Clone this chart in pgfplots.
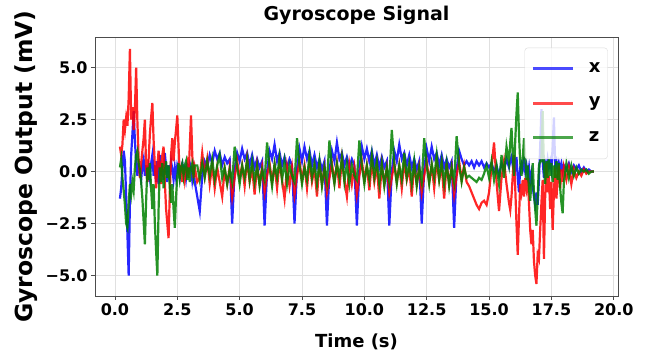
\documentclass[border=0pt]{standalone}
\usepackage{fontspec}
\setmainfont{DejaVu Sans}
\usepackage{pgfplots}
\usepackage{pgfplotstable}
\pgfplotsset{compat=1.18}
\definecolor{mplb}{rgb}{0,0,1}
\definecolor{mplr}{rgb}{1,0,0}
\definecolor{mplg}{rgb}{0,0.5,0}
\pgfplotstableread{
t gx gy gz
0.20 -1.3 1.2 0.2
0.25 -0.8 0.8 0.6
0.30 0.2 1.3 -0.3
0.35 1.0 2.5 -0.9
0.40 0.5 2.0 -1.6
0.45 -1.2 2.6 -2.5
0.50 -3.0 2.2 -2.7
0.55 -5.0 3.5 -1.5
0.60 -1.5 5.9 -0.6
0.65 0.8 2.5 -1.1
0.70 1.8 3.1 -0.5
0.75 2.9 2.0 -0.9
0.80 1.5 3.0 0.2
0.85 0.4 5.0 0.8
0.90 -0.2 2.4 1.0
0.95 0.4 0.6 0.4
1.00 0.0 -0.3 0.1
1.05 -0.4 0.4 -0.5
1.10 0.3 1.0 -1.3
1.15 0.6 1.6 -2.4
1.20 -0.2 2.5 -3.5
1.25 0.3 0.2 -1.4
1.30 -0.5 -0.5 0.2
1.35 0.2 0.6 -0.4
1.40 -0.3 1.8 0.4
1.45 0.4 2.6 -0.8
1.50 0.8 3.3 -1.8
1.55 -0.2 1.5 -0.6
1.60 0.3 0.3 -2.5
1.65 -0.5 -0.8 -3.8
1.70 0.5 0.3 -5.0
1.75 -0.6 1.0 -1.8
1.80 0.8 0.2 0.2
1.85 -0.2 -0.6 -0.5
1.90 0.4 0.8 0.4
1.95 -0.4 1.2 -0.8
2.00 0.9 -0.5 0.0
2.05 0.2 -1.8 0.5
2.10 -0.5 -2.5 -0.3
2.15 0.3 -3.2 0.3
2.20 -0.2 -1.0 -0.8
2.25 0.5 0.8 -1.5
2.30 0.1 1.6 -0.6
2.35 -0.4 0.5 -1.8
2.40 0.2 1.4 -2.7
2.45 -0.3 2.0 -1.2
2.50 0.3 2.7 -0.2
2.55 0.1 1.2 0.4
2.60 -0.3 -0.2 -0.3
2.65 0.2 0.3 0.2
2.70 0.4 -0.5 0.4
2.75 0.0 0.2 -0.2
2.80 0.2 -0.4 0.3
2.85 -0.3 0.1 0.5
2.90 0.3 0.4 -0.4
2.95 0.1 -0.3 0.2
3.00 0.4 1.2 -0.5
3.05 0.2 2.7 0.2
3.10 -0.4 0.8 0.4
3.15 0.1 -0.3 -0.2
3.20 -0.5 0.2 0.3
3.30 -1.2 -0.5 0.3
3.40 -1.9 -0.3 -0.4
3.50 -0.2 0.9 0.4
3.60 0.5 -0.2 -0.3
3.70 0.2 0.6 0.5
3.80 0.8 -0.6 -0.2
3.90 0.4 0.3 0.6
4.00 1.0 -0.8 -0.4
4.10 0.6 0.2 0.3
4.20 0.9 -0.5 0.8
4.30 0.3 -1.2 -0.3
4.40 0.7 0.1 0.2
4.50 0.4 -0.6 -0.6
4.60 0.6 0.2 0.1
4.70 -2.5 -1.2 -0.5
4.80 0.1 -0.3 1.2
4.90 0.9 0.5 0.2
5.00 0.5 -0.3 -0.6
5.10 1.1 0.3 0.3
5.20 0.6 -0.7 -0.3
5.30 0.9 0.6 0.6
5.40 0.3 -0.5 -0.4
5.50 0.8 0.2 0.5
5.60 0.2 -1.1 -0.5
5.70 0.6 0.3 0.3
5.80 0.2 -0.6 -0.7
5.90 0.5 0.2 0.1
6.00 -2.6 -1.0 -0.4
6.10 0.0 -0.2 1.4
6.20 1.0 0.4 0.2
6.30 0.6 -0.5 -0.7
6.40 1.3 0.3 0.4
6.50 0.5 -0.8 -0.3
6.60 0.9 0.5 0.7
6.70 0.3 -0.4 -0.4
6.80 0.7 -1.3 0.5
6.90 0.2 0.2 -0.6
7.00 0.6 -0.7 0.3
7.10 0.3 0.2 -0.2
7.20 -2.5 -1.1 -0.5
7.30 0.1 -0.2 1.6
7.40 1.1 0.5 0.3
7.50 0.5 -0.4 -0.6
7.60 1.2 0.3 0.2
7.70 0.6 -0.8 -0.4
7.80 1.0 0.5 0.8
7.90 0.3 -0.5 -0.3
8.00 0.8 0.2 0.4
8.10 0.2 -1.2 -0.6
8.20 0.6 0.4 0.5
8.30 0.1 -0.6 -0.7
8.40 0.5 0.2 0.2
8.50 -2.6 -1.0 -0.5
8.60 0.0 -0.3 1.5
8.70 1.0 0.4 0.2
8.80 0.5 -0.5 -0.6
8.90 1.4 0.4 0.4
9.00 0.6 -0.8 -0.3
9.10 0.9 0.6 0.7
9.20 0.3 -0.4 -0.5
9.30 0.7 -1.2 0.4
9.40 0.2 0.3 -0.6
9.50 0.6 -0.6 0.3
9.60 0.3 0.2 -0.2
9.70 -2.6 -1.1 -0.4
9.80 0.1 -0.2 1.5
9.90 1.2 0.5 0.3
10.00 0.6 -0.4 -0.6
10.10 1.1 0.3 0.3
10.20 0.5 -0.9 -0.4
10.30 1.0 0.5 0.8
10.40 0.3 -0.5 -0.3
10.50 0.8 0.3 0.5
10.60 0.2 -1.3 -0.6
10.70 0.7 0.3 0.4
10.80 0.2 -0.6 -0.7
10.90 0.5 0.2 0.2
11.00 -2.6 -1.0 -0.5
11.10 0.0 -0.3 2.0
11.20 1.0 0.4 0.4
11.30 0.5 -0.5 -0.6
11.40 1.3 0.3 0.3
11.50 0.6 -0.8 -0.4
11.60 0.9 0.5 0.9
11.70 0.3 -0.4 -0.3
11.80 0.8 0.2 0.4
11.90 0.2 -1.2 -0.6
12.00 0.6 0.4 0.5
12.10 0.1 -0.6 -0.7
12.20 0.5 0.2 0.2
12.30 -2.5 -1.0 -0.5
12.40 0.1 -0.2 1.6
12.50 1.1 0.5 0.3
12.60 0.5 -0.5 -0.6
12.70 1.2 0.3 0.4
12.80 0.6 -0.8 -0.3
12.90 0.9 0.5 0.8
13.00 0.3 -0.4 -0.4
13.10 0.8 0.3 0.5
13.20 0.2 -1.3 -0.6
13.30 0.6 0.4 0.4
13.40 0.2 -0.6 -0.7
13.50 0.5 0.2 0.2
13.60 -2.7 -1.1 -0.5
13.70 0.1 -0.2 1.7
13.80 1.0 0.5 0.3
13.90 0.6 -0.4 -0.5
14.00 0.3 0.3 0.2
14.10 0.5 -0.5 -0.3
14.20 0.3 -0.7 -0.2
14.30 0.5 -1.0 -0.3
14.40 0.2 -1.3 -0.4
14.50 0.5 -1.6 -0.5
14.60 0.3 -1.8 -0.3
14.70 0.5 -1.5 -0.4
14.80 0.2 -1.4 -0.1
14.90 0.4 -1.6 0.3
15.00 0.2 -1.0 -0.3
15.10 0.4 0.2 0.5
15.20 0.0 1.4 -0.4
15.30 0.3 -0.5 0.3
15.40 -0.2 -1.9 -0.6
15.50 0.4 -0.3 0.8
15.60 0.1 0.5 -0.3
15.70 0.6 -0.6 1.2
15.80 0.2 -1.5 0.4
15.85 0.5 -1.85 1.4
15.90 0.7 -1.2 2.1
15.95 0.3 -0.2 0.8
16.00 0.5 0.8 -0.2
16.05 0.2 -0.8 1.5
16.10 0.7 -2.5 2.8
16.15 -0.3 -4.0 3.8
16.20 -1.0 -2.2 1.8
16.25 0.2 -0.6 0.4
16.30 0.4 -1.0 -0.2
16.35 0.1 -0.4 0.6
16.40 0.5 -1.2 1.6
16.45 0.0 -0.3 0.7
16.50 0.3 -0.8 -0.4
16.55 -0.2 -0.3 0.3
16.60 0.2 -1.5 -0.8
16.65 -0.5 -2.8 -1.4
16.70 -0.1 -3.5 -0.5
16.75 -0.7 -2.8 0.4
16.80 -1.2 -4.3 -1.0
16.85 -1.6 -5.0 -1.8
16.90 -1.0 -5.4 -2.6
16.95 -1.6 -4.0 -1.2
17.00 -0.4 -4.2 0.3
17.05 1.2 -2.8 0.5
17.10 3.0 -1.5 0.5
17.15 0.5 -0.4 2.9
17.20 -0.3 -4.2 0.2
17.25 0.4 -1.2 -0.6
17.30 0.1 0.4 0.5
17.35 0.6 -1.0 -0.3
17.40 0.2 -0.2 0.6
17.45 0.5 -1.8 -0.2
17.50 0.1 -0.5 0.4
17.55 1.2 -2.8 -0.5
17.60 2.6 -1.0 0.3
17.65 0.3 0.2 -0.3
17.70 0.5 -1.3 0.5
17.75 0.0 -0.4 -0.4
17.80 0.4 0.3 0.4
17.85 0.1 -0.8 -0.8
17.90 0.4 0.1 -1.5
17.95 0.0 -0.5 -2.0
18.00 0.3 0.2 -0.5
18.10 0.1 -0.4 0.4
18.20 0.4 0.2 -0.3
18.30 0.0 -0.6 0.3
18.40 0.3 0.1 -0.2
18.50 0.1 -0.3 0.2
18.60 0.3 0.0 -0.1
18.70 0.0 -0.2 0.1
18.80 0.2 0.1 0.0
18.90 0.0 -0.1 0.1
19.00 0.1 0.0 -0.1
19.10 0.0 0.0 0.0
19.20 0.0 0.0 0.0
}\gyro
\begin{document}
\begin{tikzpicture}
\useasboundingbox (-95pt,-60pt) rectangle (556pt,296pt);
\begin{axis}[
  at={(0,0)}, anchor=south west,
  width=523pt, height=259pt, scale only axis,
  xmin=-0.8, xmax=20.17, ymin=-5.98, ymax=6.47,
  xtick={0,2.5,5,7.5,10,12.5,15,17.5,20},
  xticklabels={0.0,2.5,5.0,7.5,10.0,12.5,15.0,17.5,20.0},
  ytick={-5,-2.5,0,2.5,5},
  yticklabels={−5.0,−2.5,0.0,2.5,5.0},
  ticklabel style={font=\fontsize{16}{18}\selectfont\bfseries},
  tick align=outside, tick pos=left, major tick length=4pt,
  tick style={black!70, line width=0.8pt},
  axis line style={black!70, line width=0.8pt},
  grid=major, grid style={black!12, line width=0.8pt},
  title={Gyroscope Signal},
  title style={font=\fontsize{19}{22}\selectfont\bfseries, at={(axis description cs:0.5,1)}, anchor=base, yshift=10pt},
  xlabel={Time (s)},
  xlabel style={font=\fontsize{18}{21}\selectfont\bfseries, at={(axis description cs:0.5,-0.1757)}, anchor=center},
  ylabel={Gyroscope Output (mV)},
  ylabel style={font=\fontsize{23.5}{26}\selectfont\bfseries, at={(axis description cs:-0.132,0.5)}, anchor=center},
  legend style={at={(1,1)}, anchor=north east, xshift=-10.3pt, yshift=-10.7pt,
    fill=white, fill opacity=0.8, draw opacity=1, text opacity=1, draw=black!15,
    rounded corners=3pt, inner xsep=7pt, inner ysep=12.5pt,
    font=\fontsize{18}{20}\selectfont\bfseries, row sep=17.5pt,
    nodes={text height=12pt, text depth=5pt, inner sep=0pt},
    /tikz/every odd column/.append style={column sep=14pt}},
  legend cell align=left,
  legend image code/.code={\draw[#1, line width=3pt, opacity=0.7] (0pt,0pt) -- (40pt,0pt);},
]
\addplot[mplb, line width=2.2pt, opacity=0.85] table[x=t, y=gx] {\gyro};
\addlegendentry{x}
\addplot[mplr, line width=2.2pt, opacity=0.85] table[x=t, y=gy] {\gyro};
\addlegendentry{y}
\addplot[mplg, line width=2.2pt, opacity=0.85] table[x=t, y=gz] {\gyro};
\addlegendentry{z}
\end{axis}
\end{tikzpicture}
\end{document}
